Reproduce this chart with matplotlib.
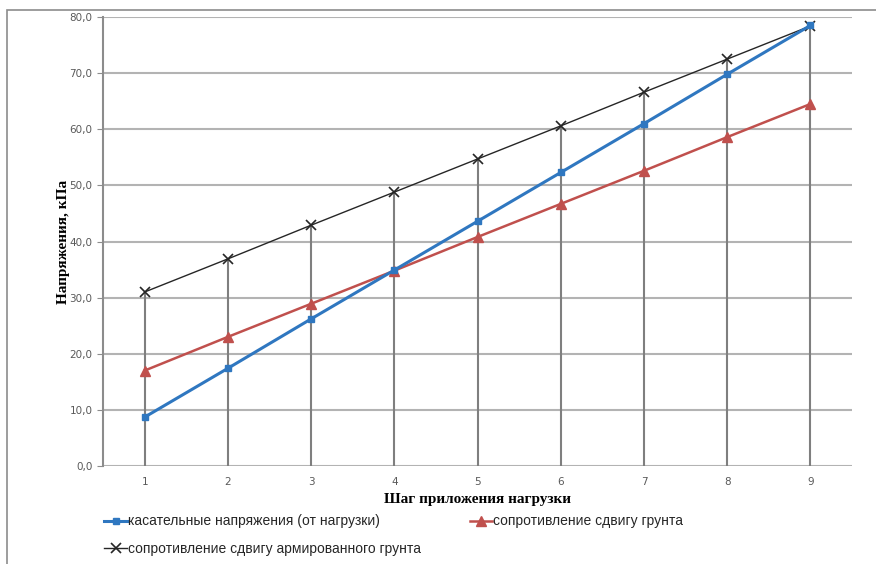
import numpy as np
import matplotlib.pyplot as plt
from matplotlib.patches import Rectangle
from matplotlib.ticker import FuncFormatter

# load steps and stresses, kPa
steps = [1, 2, 3, 4, 5, 6, 7, 8, 9]
shear_stress = [8.7, 17.4, 26.2, 34.9, 43.6, 52.3, 61.0, 69.8, 78.5]
soil_resist = [17.0, 23.0, 28.9, 34.8, 40.8, 46.7, 52.6, 58.6, 64.5]
reinf_resist = [31.0, 36.9, 42.9, 48.8, 54.7, 60.6, 66.6, 72.5, 78.4]

labels = ['касательные напряжения (от нагрузки)',
          'сопротивление сдвигу грунта',
          'сопротивление сдвигу армированного грунта']

fig = plt.figure(figsize=(8.76, 5.64), dpi=100)
ax = fig.add_axes([0.1176, 0.1738, 0.855, 0.796])

# outer frame of the chart
fig.patches.append(Rectangle((0.008, -0.02), 1.0, 1.003, transform=fig.transFigure,
                             fill=False, edgecolor='#8c8c8c', lw=1.2))

# drop lines from the highest series down to zero
top = np.maximum.reduce([shear_stress, soil_resist, reinf_resist])
ax.vlines(steps, 0, top, color='#7f7f7f', lw=1.5, zorder=2)

ax.plot(steps, reinf_resist, color='#262626', lw=1.0, marker='x', ms=7, mew=1.2,
        label=labels[2], zorder=3)
ax.plot(steps, soil_resist, color='#c0504d', lw=1.8, marker='^', ms=7,
        label=labels[1], zorder=4)
ax.plot(steps, shear_stress, color='#2f77c0', lw=2.2, marker='s', ms=4,
        label=labels[0], zorder=5)

ax.set_xlim(0.5, 9.5)
ax.set_ylim(0, 80)
ax.set_yticks(np.arange(0, 81, 10))
ax.set_xticks(steps)
ax.yaxis.set_major_formatter(FuncFormatter(lambda v, p: f'{v:.1f}'.replace('.', ',')))
ax.grid(axis='y', color='#b3b3b3', lw=1.5, zorder=1)
ax.set_axisbelow(True)
for s in ['top', 'right', 'bottom']:
    ax.spines[s].set_visible(False)
ax.spines['left'].set_color('#8c8c8c')
ax.spines['left'].set_linewidth(1.5)
ax.tick_params(axis='y', colors='#8c8c8c', labelcolor='#595959', labelsize=7.5, length=4)
ax.tick_params(axis='x', colors='#8c8c8c', labelcolor='#595959', labelsize=7.5, length=0, pad=8)

serif = {'family': ['Liberation Serif', 'DejaVu Serif'], 'weight': 'bold', 'size': 11}
ax.set_xlabel('Шаг приложения нагрузки', fontdict=serif, labelpad=4)
ax.set_ylabel('Напряжения, кПа', fontdict=serif, labelpad=0)

h, l = ax.get_legend_handles_labels()
# column-major fill: blue, black in first column; red in second
order = [2, 0, 1]
leg = fig.legend([h[i] for i in order], [l[i] for i in order], ncol=2,
                 loc='upper left', bbox_to_anchor=(0.105, 0.11), frameon=False,
                 handlelength=1.6, handletextpad=0.1, columnspacing=3.5,
                 labelspacing=1.0,
                 prop={'family': ['Liberation Sans', 'DejaVu Sans'], 'size': 10})
for t in leg.get_texts():
    t.set_color('#262626')

fig.savefig('out.png', dpi=100)
